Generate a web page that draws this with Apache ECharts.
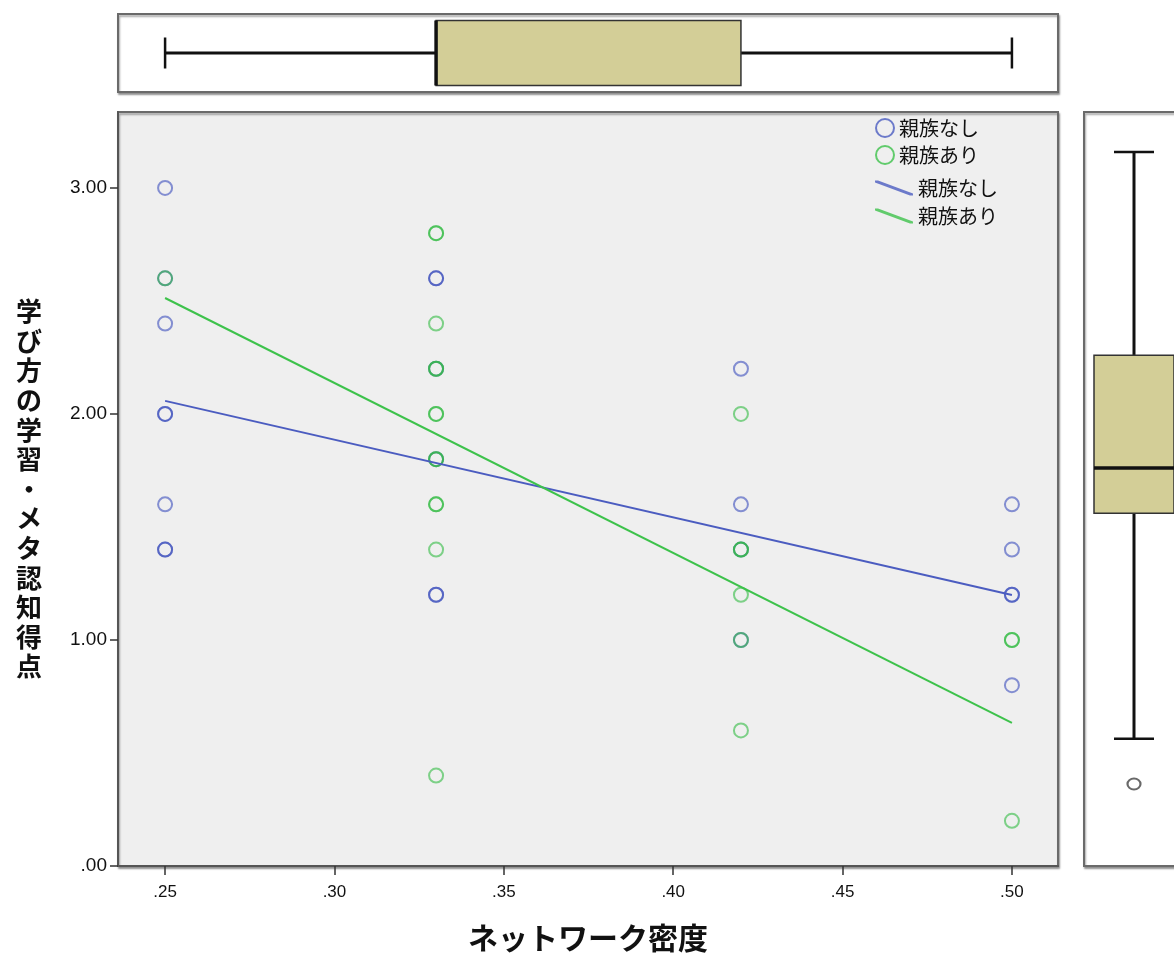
<!DOCTYPE html>
<html>
<head>
<meta charset="utf-8">
<script src="https://cdn.jsdelivr.net/npm/echarts@6/dist/echarts.min.js"></script>
<style>
  html, body { margin: 0; padding: 0; background: #fff; }
  #chart { width: 1174px; height: 953px; }
</style>
</head>
<body>
<div id="chart"></div>
<script>
// Network density levels (x) and learning / metacognition scores (y) per group
const densityLevels = [0.25, 0.33, 0.42, 0.50];
const noKinScores = [
  [3.0, 2.6, 2.4, 2.0, 2.0, 1.6, 1.4, 1.4],
  [2.6, 2.6, 2.2, 1.8, 1.2, 1.2],
  [2.2, 1.6, 1.4, 1.0],
  [1.6, 1.4, 1.2, 1.2, 0.8]
];
const withKinScores = [
  [2.6],
  [2.8, 2.8, 2.4, 2.2, 2.2, 2.0, 2.0, 1.8, 1.8, 1.6, 1.6, 1.4, 0.4],
  [2.0, 1.4, 1.4, 1.2, 1.0, 0.6],
  [1.0, 1.0, 0.2]
];
const groupNames = ['親族なし', '親族あり'];

// Linear fit lines, evaluated at the ends of the density range
const fitX = [0.25, 0.50];
const noKinFit = [2.058, 1.199];
const withKinFit = [2.513, 0.633];

// Marginal box plots: [lower whisker, Q1, median, Q3, upper whisker]
const densityBox = [0.25, 0.33, 0.33, 0.42, 0.50];
const scoreBox = [0.4, 1.4, 1.6, 2.1, 3.0];
const scoreOutliers = [0.2];

const xTicks = [0.25, 0.30, 0.35, 0.40, 0.45, 0.50];
const yTicks = [0, 1, 2, 3];

const xTitle = 'ネットワーク密度';
const yTitle = '学び方の学習・メタ認知得点';

const BLUE = 'rgba(55, 75, 188, 0.74)';
const GREEN = 'rgba(45, 186, 62, 0.74)';
const BLUE_LINE = '#4b5cc0';
const GREEN_LINE = '#3dc24b';
const BOX_FILL = '#d3ce97';

function toPoints(levels, scores) {
  const pts = [];
  levels.forEach((x, i) => scores[i].forEach(y => pts.push([x, y])));
  return pts;
}
function fitLine(ys) {
  return fitX.map((x, i) => [x, ys[i]]);
}
function decimalLabel(v) {
  return v.toFixed(2).replace(/^0/, '');
}

// Horizontal box (density) in the top strip
function renderHBox(params, api) {
  const c = (v) => api.coord([api.value(v), 0.5]);
  const pMin = c(0), pQ1 = c(1), pMed = c(2), pQ3 = c(3), pMax = c(4);
  const cy = pMin[1], half = 32.5, cap = 15.5;
  const ink = { stroke: '#111', lineWidth: 3 };
  return {
    type: 'group',
    children: [
      { type: 'line', shape: { x1: pMin[0], y1: cy, x2: pQ1[0], y2: cy }, style: ink },
      { type: 'line', shape: { x1: pQ3[0], y1: cy, x2: pMax[0], y2: cy }, style: ink },
      { type: 'line', shape: { x1: pMin[0], y1: cy - cap, x2: pMin[0], y2: cy + cap }, style: { stroke: '#111', lineWidth: 2.5 } },
      { type: 'line', shape: { x1: pMax[0], y1: cy - cap, x2: pMax[0], y2: cy + cap }, style: { stroke: '#111', lineWidth: 2.5 } },
      { type: 'rect', shape: { x: pQ1[0], y: cy - half, width: pQ3[0] - pQ1[0], height: half * 2 },
        style: { fill: BOX_FILL, stroke: '#333', lineWidth: 1.5 } },
      { type: 'line', shape: { x1: pMed[0], y1: cy - half, x2: pMed[0], y2: cy + half }, style: { stroke: '#111', lineWidth: 3.5 } }
    ]
  };
}

// Vertical box (score) in the right strip
function renderVBox(params, api) {
  const c = (v) => api.coord([0.5, api.value(v)]);
  const pMin = c(0), pQ1 = c(1), pMed = c(2), pQ3 = c(3), pMax = c(4);
  const cx = pMin[0], half = 40, cap = 20;
  const ink = { stroke: '#111', lineWidth: 3 };
  return {
    type: 'group',
    children: [
      { type: 'line', shape: { x1: cx, y1: pMin[1], x2: cx, y2: pQ1[1] }, style: ink },
      { type: 'line', shape: { x1: cx, y1: pQ3[1], x2: cx, y2: pMax[1] }, style: ink },
      { type: 'line', shape: { x1: cx - cap, y1: pMin[1], x2: cx + cap, y2: pMin[1] }, style: { stroke: '#111', lineWidth: 2.5 } },
      { type: 'line', shape: { x1: cx - cap, y1: pMax[1], x2: cx + cap, y2: pMax[1] }, style: { stroke: '#111', lineWidth: 2.5 } },
      { type: 'rect', shape: { x: cx - half, y: pQ3[1], width: half * 2, height: pQ1[1] - pQ3[1] },
        style: { fill: BOX_FILL, stroke: '#333', lineWidth: 1.5 } },
      { type: 'line', shape: { x1: cx - half, y1: pMed[1], x2: cx + half, y2: pMed[1] }, style: { stroke: '#111', lineWidth: 3.5 } }
    ]
  };
}

const chart = echarts.init(document.getElementById('chart'), null, { renderer: 'canvas' });

const panelShadow = { shadowColor: 'rgba(0,0,0,0.35)', shadowBlur: 2, shadowOffsetX: 1, shadowOffsetY: 2 };
const cjk = '"Noto Sans CJK JP", "Noto Sans", sans-serif';
const latin = '"Liberation Sans", Arial, sans-serif';
const xMin = 0.2361, xMax = 0.5136;
const lineIcon = 'path://M0,0 L3,0 L38,13 L38,15 L35,15 L0,2 Z';

chart.setOption({
  backgroundColor: '#ffffff',
  animation: false,
  grid: [
    Object.assign({ left: 118, top: 112, width: 940, height: 754, show: true, backgroundColor: '#efefef',
      borderColor: '#6a6a6a', borderWidth: 2, outerBoundsMode: 'none' }, panelShadow),
    Object.assign({ left: 118, top: 14, width: 940, height: 78, show: true, backgroundColor: '#ffffff',
      borderColor: '#6a6a6a', borderWidth: 2, outerBoundsMode: 'none' }, panelShadow),
    Object.assign({ left: 1084, top: 112, width: 100, height: 754, show: true, backgroundColor: '#ffffff',
      borderColor: '#6a6a6a', borderWidth: 2, outerBoundsMode: 'none' }, panelShadow)
  ],
  xAxis: [
    {
      gridIndex: 0, type: 'value', min: xMin, max: xMax,
      name: xTitle, nameLocation: 'middle', nameGap: 57,
      nameTextStyle: { fontFamily: cjk, fontSize: 30, fontWeight: 'bold', color: '#111' },
      splitLine: { show: false },
      axisLine: { show: true, onZero: false, lineStyle: { color: '#555', width: 2 } },
      axisTick: { show: true, length: 9, customValues: xTicks, lineStyle: { color: '#333', width: 1.5 } },
      axisLabel: { customValues: xTicks, margin: 18, formatter: decimalLabel,
        fontFamily: latin, fontSize: 17, color: '#111' }
    },
    { gridIndex: 1, type: 'value', min: xMin, max: xMax, show: false },
    { gridIndex: 2, type: 'value', min: 0, max: 1, show: false }
  ],
  yAxis: [
    {
      gridIndex: 0, type: 'value', min: 0, max: 3.336,
      name: yTitle.split('').join('\n'), nameLocation: 'middle', nameRotate: 0, nameGap: 76,
      nameTextStyle: { fontFamily: cjk, fontSize: 26, fontWeight: 'bold', color: '#111', lineHeight: 29.6 },
      splitLine: { show: false },
      axisLine: { show: true, onZero: false, lineStyle: { color: '#555', width: 2 } },
      axisTick: { show: true, length: 8, customValues: yTicks, lineStyle: { color: '#333', width: 1.5 } },
      axisLabel: { customValues: yTicks, margin: 11, formatter: decimalLabel,
        fontFamily: latin, fontSize: 19, color: '#111' }
    },
    { gridIndex: 1, type: 'value', min: 0, max: 1, show: false },
    { gridIndex: 2, type: 'value', min: -0.1633, max: 3.1772, show: false }
  ],
  legend: [
    {
      left: 875, top: 118, padding: 0, orient: 'vertical', itemWidth: 18, itemHeight: 18, itemGap: 7,
      selectedMode: false,
      textStyle: { fontFamily: cjk, fontSize: 20, color: '#111' },
      data: [
        { name: groupNames[0], icon: 'circle', itemStyle: { color: 'rgba(0,0,0,0)', borderColor: BLUE_LINE, borderWidth: 2 } },
        { name: groupNames[1], icon: 'circle', itemStyle: { color: 'rgba(0,0,0,0)', borderColor: GREEN_LINE, borderWidth: 2 } }
      ]
    },
    {
      left: 875, top: 178, padding: 0, orient: 'vertical', itemWidth: 38, itemHeight: 15, itemGap: 8,
      selectedMode: false,
      textStyle: { fontFamily: cjk, fontSize: 20, color: '#111' },
      data: [
        { name: groupNames[0], icon: lineIcon, itemStyle: { color: BLUE_LINE, borderWidth: 0 } },
        { name: groupNames[1], icon: lineIcon, itemStyle: { color: GREEN_LINE, borderWidth: 0 } }
      ]
    }
  ],
  series: [
    {
      name: groupNames[0], type: 'scatter', xAxisIndex: 0, yAxisIndex: 0,
      symbol: 'circle', symbolSize: 14,
      itemStyle: { color: 'rgba(0,0,0,0)', borderColor: BLUE, borderWidth: 2 },
      data: toPoints(densityLevels, noKinScores), z: 2
    },
    {
      name: groupNames[1], type: 'scatter', xAxisIndex: 0, yAxisIndex: 0,
      symbol: 'circle', symbolSize: 14,
      itemStyle: { color: 'rgba(0,0,0,0)', borderColor: GREEN, borderWidth: 2 },
      data: toPoints(densityLevels, withKinScores), z: 3
    },
    {
      name: groupNames[0], type: 'line', xAxisIndex: 0, yAxisIndex: 0,
      showSymbol: false, symbol: 'none', lineStyle: { color: BLUE_LINE, width: 2 }, itemStyle: { color: BLUE_LINE },
      data: fitLine(noKinFit), z: 4
    },
    {
      name: groupNames[1], type: 'line', xAxisIndex: 0, yAxisIndex: 0,
      showSymbol: false, symbol: 'none', lineStyle: { color: GREEN_LINE, width: 2 }, itemStyle: { color: GREEN_LINE },
      data: fitLine(withKinFit), z: 4
    },
    {
      type: 'custom', xAxisIndex: 1, yAxisIndex: 1, renderItem: renderHBox,
      data: [densityBox], silent: true
    },
    {
      type: 'custom', xAxisIndex: 2, yAxisIndex: 2, renderItem: renderVBox,
      data: [scoreBox], silent: true
    },
    {
      type: 'scatter', xAxisIndex: 2, yAxisIndex: 2, symbol: 'circle', symbolSize: [13, 11],
      itemStyle: { color: 'rgba(0,0,0,0)', borderColor: '#444', borderWidth: 2 },
      data: scoreOutliers.map(v => [0.5, v]), silent: true
    }
  ]
});
</script>
</body>
</html>
